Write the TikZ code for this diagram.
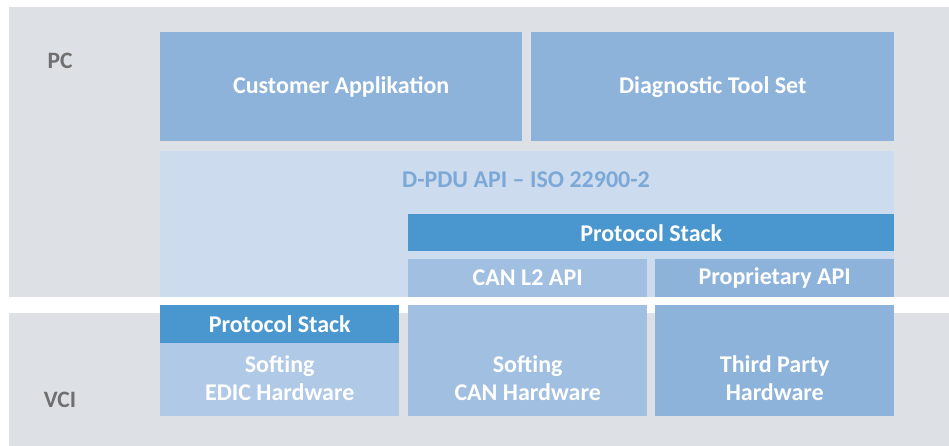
\documentclass[tikz,border=0pt]{standalone}
\usepackage{fontspec}
\setmainfont{Carlito}
\usetikzlibrary{positioning}
\definecolor{bggray}{HTML}{DDE1E5}
\definecolor{appblue}{HTML}{8DB3DB}
\definecolor{apiblue}{HTML}{CCDCEE}
\definecolor{stackblue}{HTML}{4A96CE}
\definecolor{canblue}{HTML}{A0BFE1}
\definecolor{edicblue}{HTML}{AFC9E7}
\definecolor{apitext}{HTML}{7CA8D7}
\definecolor{labelgray}{HTML}{6F6F6F}
\tikzset{
  layer/.style={fill=#1, inner sep=0pt, anchor=north west, text=white, align=center,
    font=\bfseries\fontsize{24}{28}\selectfont},
  side/.style={text=labelgray, font=\bfseries\fontsize{23.5}{28}\selectfont}
}
\begin{document}
\begin{tikzpicture}[x=1pt, y=-1pt]
  \useasboundingbox (0,0) rectangle (949,446);
  % PC and VCI areas
  \fill[bggray] (9,7) rectangle (949,297);
  \fill[bggray] (9,313) rectangle (949,446);
  \node[side] (pc) at (60,61) {PC};
  \node[side] (vci) at (60,400) {VCI};
  % PC layers
  \node[layer=appblue, minimum width=362pt, minimum height=109pt] (cust) at (160,32) {Customer Applikation};
  \node[layer=appblue, minimum width=363pt, minimum height=109pt] (diag) at (531,32) {Diagnostic Tool Set};
  \node[layer=apiblue, minimum width=734pt, minimum height=146pt] (dpdu) at (160,151) {};
  \node[text=apitext, font=\bfseries\fontsize{24}{28}\selectfont] (dpdutext) at (526,180) {D-PDU API -- ISO 22900-2};
  \node[layer=stackblue, minimum width=486pt, minimum height=37pt] (pcstack) at (408,214) {Protocol Stack};
  \node[layer=canblue, minimum width=239pt, minimum height=38pt] (canapi) at (408,259) {CAN L2 API};
  \node[layer=appblue, minimum width=239pt, minimum height=38pt] (propapi) at (655,259) {Proprietary API};
  % VCI layers
  \node[layer=stackblue, minimum width=239pt, minimum height=38pt] (vcistack) at (160,305) {Protocol Stack};
  \node[layer=edicblue, minimum width=239pt, minimum height=73pt] (edic) at (160,343) {};
  \node[layer=canblue, minimum width=239pt, minimum height=111pt] (canhw) at (408,305) {};
  \node[layer=appblue, minimum width=239pt, minimum height=111pt] (thirdhw) at (655,305) {};
  \node[layer=none, anchor=center] (edictext) at (edic.center |- 0,378) {Softing\\EDIC Hardware};
  \node[layer=none, anchor=center] (canhwtext) at (canhw.center |- 0,378) {Softing\\CAN Hardware};
  \node[layer=none, anchor=center] (thirdhwtext) at (thirdhw.center |- 0,378) {Third Party\\Hardware};
\end{tikzpicture}
\end{document}
